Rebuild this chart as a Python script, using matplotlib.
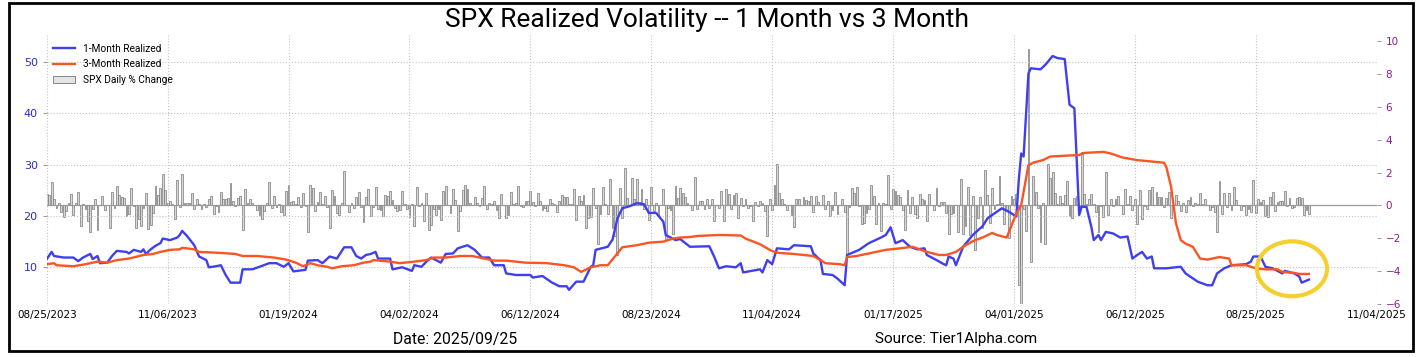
import numpy as np
import matplotlib
matplotlib.use('Agg')
import matplotlib.pyplot as plt
from matplotlib.patches import Ellipse, Patch, Rectangle
from matplotlib.lines import Line2D

# 1. Textos del grafico
titulo = 'SPX Realized Volatility -- 1 Month vs 3 Month'
texto_fecha = 'Date: 2025/09/25'
texto_fuente = 'Source: Tier1Alpha.com'

# 2. Etiquetas del eje x (una cada 50 sesiones)
tick_labels = ['08/25/2023', '11/06/2023', '01/19/2024', '04/02/2024', '06/12/2024', '08/23/2024',
               '11/04/2024', '01/17/2025', '04/01/2025', '06/12/2025', '08/25/2025', '11/04/2025']
sesiones_por_tick = 50

# 3. Variacion diaria del SPX en % (una por sesion, desde 08/25/2023)
aug23 = [0.67, 0.63, 1.45, 0.38, -0.16]
sep23 = [0.18, -0.42, -0.70, -0.32, 0.14, 0.67, -0.57, 0.12, 0.84, -1.22, 0.07, -0.22, -0.94, -1.64, -0.23,
         0.40, -1.47, 0.02, 0.59, -0.27]
oct23 = [0.01, -1.37, 0.81, -0.13, 1.18, 0.63, 0.52, 0.43, -0.62, -0.50, 1.06, -0.01, -1.34, -0.85, -1.26,
         -0.17, 0.73, -1.43, -1.18, -0.48, 1.20, 0.65]
nov23 = [1.05, 1.89, 0.94, 0.18, 0.28, 0.10, -0.81, 1.56, -0.08, 1.91, 0.16, 0.12, 0.13, 0.74, -0.20, 0.41,
         0.06, -0.20, 0.10, -0.09, 0.38]
dec23 = [0.59, -0.54, -0.06, -0.39, 0.80, 0.41, 0.39, 0.46, 1.37, 0.26, -0.01, 0.45, 0.59, -1.47, 1.03, 0.17,
         0.42, 0.14, 0.04, -0.28]
jan24 = [-0.57, -0.80, -0.34, 0.18, 1.41, -0.15, 0.57, -0.07, 0.08, -0.37, -0.56, 0.88, 1.23, 0.22, 0.29, 0.08,
         0.53, -0.07, 0.76, -0.06, -1.61]
feb24 = [1.25, 1.07, -0.32, 0.23, 0.82, 0.06, 0.57, -0.09, -1.37, 0.96, 0.58, -0.48, -0.60, 0.13, 2.11, 0.03,
         -0.38, 0.17, -0.17, 0.52]
mar24 = [0.80, -0.12, -1.02, 0.51, 1.03, -0.65, -0.11, 1.12, -0.19, -0.29, -0.65, 0.63, 0.56, 0.89, 0.32, -0.14,
         -0.31, -0.28, 0.86, 0.11]
apr24 = [-0.20, -0.72, 0.11, -1.23, 1.11, -0.04, 0.14, -0.95, 0.74, -1.46, -1.20, -0.21, -0.58, -0.22, -0.88,
         0.87, 1.20, 0.02, -0.46, 1.02, 0.32, -1.57]
may24 = [-0.34, 0.91, 1.26, 1.03, 0.13, -0.00, 0.51, 0.16, -0.02, 0.48, 1.17, -0.21, 0.12, 0.09, 0.25, -0.27,
         -0.74, 0.70, 0.02, -0.74, -0.60, 0.80]
jun24 = [0.11, 0.15, 1.18, -0.02, -0.11, 0.26, 0.27, 0.85, 0.23, -0.04, 0.77, 0.25, -0.25, -0.16, -0.31, 0.39,
         0.16, 0.09, -0.41]
jul24 = [0.27, 0.62, 0.51, 0.54, 0.10, 0.07, 1.02, -0.88, 0.55, 0.28, 0.64, -1.39, -0.78, -0.71, 1.08, -0.16,
         -2.31, -0.51, 1.11, 0.08, -0.50, 1.58]
aug24 = [-1.37, -1.84, -3.00, 1.04, -0.77, 2.30, 0.47, 0.00, 1.68, 0.38, 1.61, 0.20, 0.97, -0.20, 0.42, -0.89,
         1.15, -0.32, 0.16, -0.60, 0.01, 1.01]
sep24 = [-2.12, -0.16, -0.30, -1.73, 1.16, 0.45, 1.07, 0.75, 0.54, 0.13, 0.03, -0.29, 1.70, -0.19, 0.28, 0.25,
         -0.19, 0.40, -0.13, 0.42]
oct24 = [-0.93, 0.01, -0.17, 0.90, -0.96, 0.97, 0.71, -0.21, 0.61, 0.77, -0.76, 0.47, -0.02, 0.40, -0.18, -0.05,
         -0.92, 0.21, -0.03, 0.27, 0.16, -0.33, -1.86]
nov24 = [0.41, -0.28, 1.23, 2.53, 0.74, 0.38, 0.10, -0.29, 0.02, -0.60, -1.32, 0.39, 0.40, 0.00, 0.53, 0.35,
         0.30, 0.57, -0.38, 0.56]
dec24 = [0.24, 0.05, 0.61, -0.19, 0.25, -0.61, -0.30, 0.82, -0.54, -0.00, 0.38, -0.39, -2.95, -0.09, 1.09, 0.73,
         1.10, -0.04, -1.11, -1.07, -0.43]
jan25 = [-0.22, 1.26, 0.55, -1.11, 0.16, -1.54, 0.16, 0.11, 1.83, -0.21, 1.00, 0.88, 0.61, 0.53, -0.29, -1.46,
         0.92, -0.47, 0.53, -0.50]
feb25 = [-0.76, 0.72, 0.39, 0.36, -0.95, 0.67, 0.03, -0.27, 1.04, -0.01, 0.24, 0.24, -0.43, -1.71, -0.50, -0.47,
         0.01, -1.59, 1.59]
mar25 = [-1.76, -1.22, 1.12, -1.78, 0.55, -2.70, -0.76, 0.49, -1.39, 2.13, 0.64, -1.07, 1.08, -0.22, 0.08, 1.76,
         0.16, -1.12, -0.33, -1.97, 0.55]
apr25 = [0.38, 0.67, -4.84, -5.97, -0.23, -1.57, 9.52, -3.46, 1.81, 0.79, -0.17, -2.24, 0.13, -2.36, 2.51, 1.67,
         2.03, 0.74, 0.06, 0.58, 0.15]
may25 = [0.63, 1.47, -0.64, -0.77, 0.43, 0.58, -0.07, 3.26, 0.72, 0.10, 0.41, 0.70, 0.09, -0.39, -1.61, -0.04,
         -0.67, 2.05, -0.56, 0.40, -0.01]
jun25 = [0.41, 0.58, 0.01, -0.53, 1.03, 0.09, 0.55, -0.27, 0.38, -1.13, 0.94, -0.84, -0.03, -0.22, 0.96, 1.11,
         -0.00, 0.80, 0.52, 0.52]
jul25 = [-0.11, 0.47, 0.83, -0.79, -0.07, 0.61, 0.27, -0.33, 0.14, -0.40, 0.32, 0.54, -0.01, 0.14, 0.06, 0.78,
         0.07, 0.40, 0.02, -0.30, -0.12, -0.37]
aug25 = [-1.60, 1.47, -0.49, 0.73, -0.08, 0.78, -0.25, 1.13, 0.32, 0.03, -0.29, -0.01, -0.59, -0.24, -0.40, 1.52,
         -0.43, 0.41, 0.24, 0.32, -0.64]
sep25 = [-0.69, 0.51, 0.83, -0.32, 0.21, 0.27, 0.30, 0.85, -0.05, 0.47, -0.13, -0.10, 0.48, 0.49, 0.44, -0.55,
         -0.28, -0.50]

# 4. Volatilidad realizada a 1 mes (sesion, valor)
vol_1m_dia = [0, 2, 3, 7, 11, 13, 15, 18, 19, 21, 22, 25, 27, 29, 33, 34, 36, 39, 40, 41, 43, 45, 47, 48, 51, 54,
              55, 56, 58, 61, 63, 66, 67, 70, 72, 74, 76, 80, 81, 85, 88, 92, 95, 98, 100, 102, 107, 108, 112,
              114, 117, 120, 123, 126, 128, 130, 132, 134, 136, 137, 142, 143, 147, 151, 152, 155, 157, 159, 163,
              165, 168, 170, 174, 177, 180, 183, 185, 189, 190, 194, 200, 201, 205, 209, 212, 215, 216, 219, 222,
              225, 226, 227, 232, 234, 236, 238, 241, 244, 247, 249, 252, 255, 256, 260, 262, 266, 274, 276, 278,
              281, 285, 287, 288, 295, 296, 298, 300, 302, 307, 309, 316, 317, 320, 321, 325, 327, 330, 331, 336,
              340, 345, 347, 349, 351, 354, 357, 360, 363, 364, 368, 371, 372, 373, 375, 376, 379, 383, 387, 389,
              391, 395, 398, 401, 402, 403, 404, 406, 407, 411, 413, 416, 418, 421, 423, 425, 427, 428, 430, 432,
              433, 435, 436, 438, 441, 444, 447, 449, 451, 453, 455, 457, 458, 463, 469, 471, 476, 480, 482, 484,
              487, 490, 496, 498, 499, 502, 504, 507, 511, 512, 516, 518, 519, 521, 522]
vol_1m = [11.6, 13.0, 12.2, 11.9, 11.9, 11.2, 11.9, 12.6, 11.6, 12.2, 10.8, 10.9, 12.2, 13.2, 13.0, 12.7, 13.4,
          13.0, 13.5, 12.6, 13.5, 14.2, 14.7, 15.6, 15.3, 15.8, 16.3, 17.1, 16.1, 14.3, 12.1, 11.4, 10.0, 10.2,
          10.4, 8.5, 7.0, 7.0, 9.6, 9.6, 10.1, 10.8, 10.8, 10.1, 10.8, 9.2, 9.5, 11.3, 11.4, 10.8, 12.1, 11.7,
          13.9, 13.9, 12.2, 11.7, 12.4, 12.6, 13.0, 11.7, 11.7, 9.6, 10.0, 9.3, 10.4, 10.1, 11.1, 11.9, 10.9,
          12.6, 12.7, 13.7, 14.3, 13.4, 11.9, 11.9, 10.4, 10.4, 8.8, 8.5, 8.5, 8.0, 8.3, 7.0, 6.3, 6.3, 5.6, 7.2,
          7.2, 10.1, 10.4, 13.4, 14.0, 15.4, 19.5, 21.5, 21.9, 22.5, 22.3, 20.6, 20.6, 18.9, 16.3, 15.3, 15.5,
          14.0, 14.1, 12.1, 9.8, 10.2, 10.0, 10.8, 9.0, 9.6, 9.0, 11.4, 10.6, 13.7, 13.5, 14.3, 14.1, 12.7, 11.4,
          8.7, 8.5, 7.8, 6.5, 12.4, 13.4, 14.7, 15.8, 16.3, 17.8, 14.7, 15.3, 14.0, 13.5, 13.7, 12.4, 11.4, 10.6,
          10.4, 12.1, 11.7, 10.4, 14.0, 16.3, 18.0, 19.5, 20.2, 21.5, 20.8, 19.9, 27.0, 32.2, 31.6, 47.8, 48.8,
          48.6, 49.5, 51.2, 50.8, 50.6, 41.7, 41.0, 20.2, 21.8, 21.8, 17.9, 15.3, 16.3, 15.3, 16.9, 16.6, 15.8,
          16.0, 11.7, 12.4, 13.0, 11.7, 12.1, 9.8, 9.8, 10.1, 8.8, 7.2, 6.5, 6.5, 8.8, 9.8, 10.4, 10.6, 11.1,
          12.1, 12.1, 10.1, 9.8, 8.8, 9.3, 8.8, 8.2, 7.0, 7.4, 7.6]

# 5. Volatilidad realizada a 3 meses (sesion, valor)
vol_3m_dia = [0, 3, 4, 11, 16, 21, 25, 29, 34, 40, 44, 47, 51, 55, 56, 61, 63, 72, 78, 81, 87, 94, 99, 103, 106,
              109, 112, 116, 118, 122, 127, 131, 134, 135, 142, 146, 152, 157, 160, 165, 171, 176, 181, 185, 190,
              198, 207, 214, 218, 221, 225, 229, 232, 236, 238, 244, 249, 255, 259, 262, 266, 269, 278, 287, 289,
              295, 299, 301, 303, 309, 317, 320, 322, 328, 330, 331, 335, 340, 347, 353, 358, 364, 369, 372, 376,
              379, 383, 387, 391, 393, 397, 401, 403, 406, 408, 412, 415, 427, 429, 437, 440, 445, 451, 462, 463,
              465, 467, 469, 471, 474, 477, 480, 485, 489, 490, 496, 500, 504, 509, 511, 516, 518, 522]
vol_3m = [10.6, 10.8, 10.4, 10.2, 10.6, 11.1, 10.9, 11.4, 11.7, 12.4, 12.6, 13.0, 13.4, 13.5, 13.8, 13.5, 13.0,
          12.8, 12.6, 12.2, 12.2, 11.9, 11.5, 10.9, 10.2, 10.8, 10.4, 10.1, 9.8, 10.2, 10.4, 10.9, 11.1, 11.4,
          11.1, 10.8, 11.1, 11.4, 11.9, 11.9, 12.2, 12.2, 11.7, 11.3, 11.3, 10.9, 10.8, 10.4, 10.0, 9.1, 10.0,
          10.4, 10.4, 12.7, 13.9, 14.3, 14.8, 15.0, 15.6, 15.8, 15.9, 16.1, 16.3, 16.2, 15.6, 14.5, 13.4, 13.0,
          12.8, 12.6, 12.2, 11.4, 10.8, 10.6, 10.4, 12.0, 12.2, 12.7, 13.4, 13.7, 14.0, 13.0, 12.4, 12.4, 13.0,
          14.0, 15.1, 15.8, 16.7, 16.3, 15.8, 20.5, 22.1, 29.9, 30.4, 30.9, 31.6, 31.9, 32.3, 32.5, 32.2, 31.4,
          30.9, 30.4, 29.6, 25.7, 18.6, 15.3, 14.6, 14.0, 11.7, 11.5, 12.0, 11.7, 10.4, 10.4, 9.8, 9.6, 9.6, 9.1,
          8.9, 8.7, 8.7]

# 6. Colores y fuentes
azul = '#3f3ff0'
naranja = '#fa5523'
morado = '#8b1a8b'
fuente = ['Liberation Sans Narrow', 'Roboto', 'DejaVu Sans']

spx_pct = np.array(aug23 + sep23 + oct23 + nov23 + dec23 + jan24 + feb24 + mar24 + apr24 + may24 + jun24
                   + jul24 + aug24 + sep24 + oct24 + nov24 + dec24 + jan25 + feb25 + mar25 + apr25 + may25
                   + jun25 + jul25 + aug25 + sep25)
sesiones = np.arange(len(spx_pct))

fig = plt.figure(figsize=(14.17, 3.57), dpi=100)
ax = fig.add_axes([0.033, 0.1476, 0.9385, 0.7544])
ax2 = ax.twinx()

# barras en el eje derecho, lineas en el izquierdo (por encima)
ax2.bar(sesiones, spx_pct, width=0.75, color='#d8d8d8', edgecolor='#6c6c6c', linewidth=0.45)
ax2.axhline(0, color='#9a9a9a', linewidth=0.9)
ax.plot(vol_1m_dia, vol_1m, color=azul, linewidth=1.7)
ax.plot(vol_3m_dia, vol_3m, color=naranja, linewidth=1.7)

ax.set_zorder(ax2.get_zorder() + 1)
ax.patch.set_visible(False)

ax.set_xlim(0, (len(tick_labels) - 1) * sesiones_por_tick)
ax.set_ylim(2.78, 55.3)
ax2.set_ylim(-6, 10.35)
ax.set_xticks(np.arange(len(tick_labels)) * sesiones_por_tick)
ax.set_xticklabels(tick_labels)
ax.set_yticks([10, 20, 30, 40, 50])
ax2.set_yticks([-6, -4, -2, 0, 2, 4, 6, 8, 10])

ax.grid(True, linestyle=':', color='#c4c4c4', linewidth=0.8)
for a in (ax, ax2):
    for s in a.spines.values():
        s.set_visible(False)

ax.tick_params(axis='x', length=0, pad=4, labelsize=7.5)
ax.tick_params(axis='y', length=3, width=0.6, color='#888888', labelcolor='#2b2bd0', labelsize=8)
ax2.tick_params(axis='y', length=3, width=0.6, color='#888888', labelcolor=morado, labelsize=7.5)

# circulo amarillo de la ultima lectura
ax.add_patch(Ellipse((515, 9.7), width=29, height=10.7, fill=False, edgecolor='#f5cf2e', linewidth=3,
                     zorder=5))

handles = [Line2D([], [], color=azul, linewidth=1.7),
           Line2D([], [], color=naranja, linewidth=1.7),
           Patch(facecolor='#e4e4e4', edgecolor='#777777', linewidth=0.6)]
ax.legend(handles, ['1-Month Realized', '3-Month Realized', 'SPX Daily % Change'], loc='upper left',
          bbox_to_anchor=(0.0, 0.99), frameon=False, prop={'family': fuente, 'size': 7.3},
          handlelength=2.2, handletextpad=0.8, labelspacing=0.55, borderaxespad=0.2)

fig.text(0.499, 0.944, titulo, ha='center', va='center', fontsize=19, family=fuente)
fig.text(0.321, 0.05, texto_fecha, ha='center', va='center', fontsize=11.3, family=fuente)
fig.text(0.675, 0.05, texto_fuente, ha='center', va='center', fontsize=11, family=fuente)

# marco negro alrededor de la figura
fig.patches.append(Rectangle((9 / 1417, 1 - 351 / 357), 1404 / 1417, 348 / 357, transform=fig.transFigure,
                             fill=False, edgecolor='black', linewidth=2))

fig.savefig('out.png', dpi=100)
